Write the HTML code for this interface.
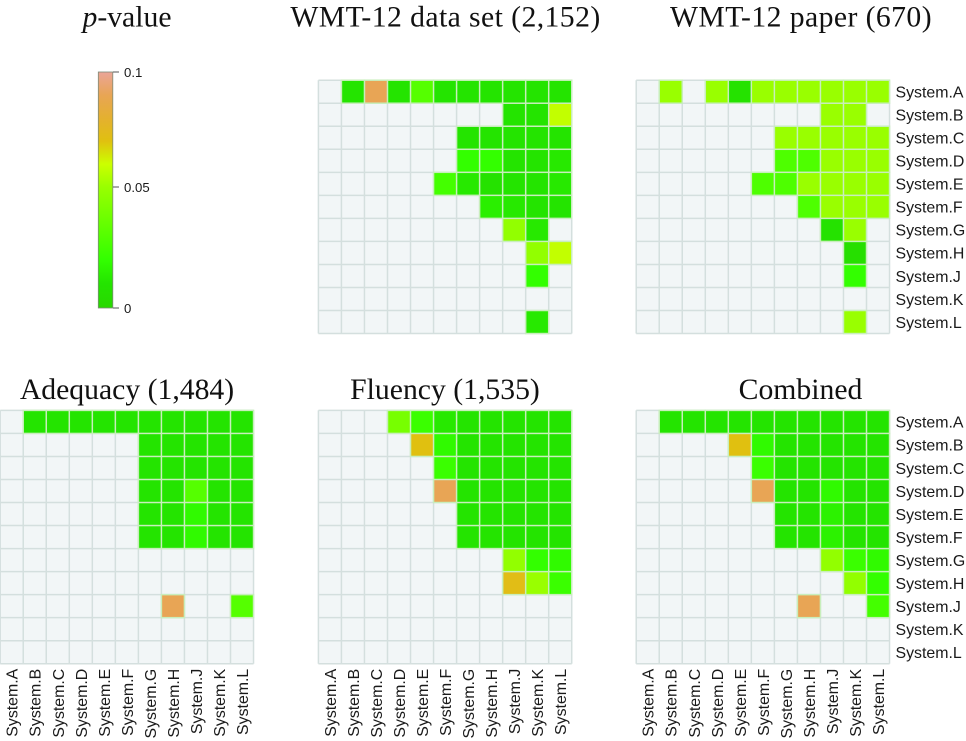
<!DOCTYPE html>
<html>
<head>
<meta charset="utf-8">
<title>p-value heatmaps</title>
<style>
html,body{margin:0;padding:0;background:#fff;width:966px;height:741px;overflow:hidden}
svg{display:block}
.title{font-family:"Liberation Serif",serif;font-size:29.7px;fill:#111;text-anchor:middle}
.wide{letter-spacing:0.42px}
.lab{font-family:"Liberation Sans",sans-serif;font-size:15.9px;fill:#1a1a1a}
.leg{font-family:"Liberation Sans",sans-serif;font-size:13.2px;fill:#1a1a1a}
</style>
</head>
<body>
<svg id="chart" width="966" height="741" viewBox="0 0 966 741" xmlns="http://www.w3.org/2000/svg">
<defs><linearGradient id="legend-gradient" x1="0" y1="1" x2="0" y2="0"></linearGradient></defs>
<text class="title" x="127" y="26.5"><tspan font-style="italic">p</tspan>-value</text>
<text class="title wide" x="445.5" y="26.5">WMT-12 data set (2,152)</text>
<text class="title wide" x="801" y="26.5">WMT-12 paper (670)</text>
<text class="title" x="127" y="399">Adequacy (1,484)</text>
<text class="title" x="445" y="399">Fluency (1,535)</text>
<text class="title" x="800.5" y="399">Combined</text>
<g id="plots"></g>
<g id="legend"></g>
</svg>
<script>
const n = null;
const systems = ["System.A","System.B","System.C","System.D","System.E","System.F","System.G","System.H","System.J","System.K","System.L"];
const legendTicks = [0, 0.05, 0.1];
const legendTickLabels = ["0", "0.05", "0.1"];
const colorValues = [0, 0.01, 0.02, 0.03, 0.04, 0.05, 0.06, 0.07, 0.08, 0.09, 0.1];
const colorHexes = ["#28d800","#24e400","#33ff00","#55ff00","#77ff00","#99ff00","#ccff00","#e0c010","#e4b030","#e8a555","#eba598"];

const wmtData = [
  [n,.01,.09,.01,.03,.01,.01,.01,.01,.01,.01],
  [n,n,n,n,n,n,n,n,.01,.01,.058],
  [n,n,n,n,n,n,.01,.01,.01,.01,.01],
  [n,n,n,n,n,n,.02,.02,.01,.01,.012],
  [n,n,n,n,n,.025,.012,.008,.01,.01,.012],
  [n,n,n,n,n,n,n,.014,.012,.01,.01],
  [n,n,n,n,n,n,n,n,.048,.012,n],
  [n,n,n,n,n,n,n,n,n,.048,.058],
  [n,n,n,n,n,n,n,n,n,.02,n],
  [n,n,n,n,n,n,n,n,n,n,n],
  [n,n,n,n,n,n,n,n,n,.012,n]
];
const wmtPaper = [
  [n,.05,n,.05,.008,.05,.05,.05,.05,.05,.05],
  [n,n,n,n,n,n,n,n,.05,.05,n],
  [n,n,n,n,n,n,.05,.05,.05,.05,.05],
  [n,n,n,n,n,n,.028,.028,.05,.05,.05],
  [n,n,n,n,n,.028,.028,.05,.05,.05,.05],
  [n,n,n,n,n,n,n,.028,.05,.05,.05],
  [n,n,n,n,n,n,n,n,.008,.05,n],
  [n,n,n,n,n,n,n,n,n,.006,n],
  [n,n,n,n,n,n,n,n,n,.02,n],
  [n,n,n,n,n,n,n,n,n,n,n],
  [n,n,n,n,n,n,n,n,n,.05,n]
];
const adequacy = [
  [n,.01,.01,.01,.01,.01,.01,.01,.01,.01,.01],
  [n,n,n,n,n,n,.01,.01,.01,.01,.01],
  [n,n,n,n,n,n,.01,.01,.01,.01,.01],
  [n,n,n,n,n,n,.01,.01,.03,.01,.01],
  [n,n,n,n,n,n,.01,.01,.018,.01,.01],
  [n,n,n,n,n,n,.01,.01,.018,.01,.01],
  [n,n,n,n,n,n,n,n,n,n,n],
  [n,n,n,n,n,n,n,n,n,n,n],
  [n,n,n,n,n,n,n,.09,n,n,.03],
  [n,n,n,n,n,n,n,n,n,n,n],
  [n,n,n,n,n,n,n,n,n,n,n]
];
const fluency = [
  [n,n,n,.04,.022,.012,.01,.01,.01,.01,.01],
  [n,n,n,n,.07,.018,.01,.01,.01,.01,.01],
  [n,n,n,n,n,.022,.01,.01,.01,.01,.01],
  [n,n,n,n,n,.09,.01,.01,.01,.01,.01],
  [n,n,n,n,n,n,.01,.01,.01,.01,.01],
  [n,n,n,n,n,n,.01,.01,.01,.01,.01],
  [n,n,n,n,n,n,n,n,.048,.02,.018],
  [n,n,n,n,n,n,n,n,.072,.05,.022],
  [n,n,n,n,n,n,n,n,n,n,n],
  [n,n,n,n,n,n,n,n,n,n,n],
  [n,n,n,n,n,n,n,n,n,n,n]
];
const combined = [
  [n,.01,.01,.01,.01,.01,.01,.01,.01,.01,.01],
  [n,n,n,n,.07,.018,.01,.01,.01,.01,.01],
  [n,n,n,n,n,.022,.01,.01,.01,.01,.01],
  [n,n,n,n,n,.09,.01,.01,.018,.01,.01],
  [n,n,n,n,n,n,.01,.01,.015,.01,.01],
  [n,n,n,n,n,n,.01,.01,.015,.01,.01],
  [n,n,n,n,n,n,n,n,.048,.022,.018],
  [n,n,n,n,n,n,n,n,n,.048,.02],
  [n,n,n,n,n,n,n,.09,n,n,.025],
  [n,n,n,n,n,n,n,n,n,n,n],
  [n,n,n,n,n,n,n,n,n,n,n]
];

const NS = "http://www.w3.org/2000/svg";
const PITCH = 23.03;
function mk(tag, attrs, parent) {
  const el = document.createElementNS(NS, tag);
  for (const k in attrs) el.setAttribute(k, attrs[k]);
  parent.appendChild(el);
  return el;
}
function hexToRgb(h) {
  return [parseInt(h.slice(1,3),16), parseInt(h.slice(3,5),16), parseInt(h.slice(5,7),16)];
}
function colorScale(v) {
  const c = Math.max(colorValues[0], Math.min(colorValues[colorValues.length-1], v));
  let i = 0;
  while (i < colorValues.length-2 && c > colorValues[i+1]) i++;
  const t = (c - colorValues[i]) / (colorValues[i+1] - colorValues[i]);
  const a = hexToRgb(colorHexes[i]);
  const b = hexToRgb(colorHexes[i+1]);
  return "rgb(" + a.map((x,j) => Math.round(x + (b[j]-x)*t)).join(",") + ")";
}
function legendY(v) {
  if (v <= 0.05) return 308 - (v / 0.05) * 121;
  return 187 - ((v - 0.05) / 0.05) * 115;
}

const plots = document.getElementById("plots");

function drawPanel(name, values, left, top, showRowLabels, showColLabels) {
  const g = document.createElementNS(NS, "g");
  
  
  plots.appendChild(g);
  const xPos = i => left + i * PITCH;
  const yPos = i => top + i * PITCH;
  const size = systems.length * PITCH;
  const bg = mk("rect", {x:left, y:top, width:size, height:size, fill:"#f2f6f7"}, g);
  
  
  for (let i = 0; i <= systems.length; i++) {
    const v = mk("line", {x1:xPos(i), x2:xPos(i), y1:top, y2:top+size, stroke:"#d4dfde", "stroke-width":1.5}, g);
    
    
    const h = mk("line", {y1:yPos(i), y2:yPos(i), x1:left, x2:left+size, stroke:"#d4dfde", "stroke-width":1.5}, g);
    
    
  }
  values.forEach((row, r) => row.forEach((val, c) => {
    if (val === null) return;
    const halo = mk("rect", {x:xPos(c)-0.75, y:yPos(r)-0.75, width:PITCH+1.5, height:PITCH+1.5, fill:"#c8eebc"}, g);
    
    
  }));
  values.forEach((row, r) => row.forEach((val, c) => {
    if (val === null) return;
    const cell = mk("rect", {x:xPos(c)+0.75, y:yPos(r)+0.75, width:PITCH-1.5, height:PITCH-1.5, fill:colorScale(val)}, g);
    
    
  }));
  if (showRowLabels) {
    systems.forEach((s, i) => {
      const t = mk("text", {class:"lab", x:left+size+6, y:yPos(i)+PITCH/2+5.8}, g);
      
      
      t.textContent = s;
    });
  }
  if (showColLabels) {
    systems.forEach((s, i) => {
      const cx = xPos(i) + PITCH/2 + 0.5;
      const yy = top + size + 5;
      const t = mk("text", {class:"lab", transform:"translate(" + (cx+5.5) + "," + yy + ") rotate(-90)", "text-anchor":"end"}, g);
      
      
      t.textContent = s;
    });
  }
}

drawPanel("wmt-data", wmtData, 318.4, 80.2, false, false);
drawPanel("wmt-paper", wmtPaper, 636.2, 80.2, true, false);
drawPanel("adequacy", adequacy, 0.2, 410.4, false, true);
drawPanel("fluency", fluency, 318.4, 410.4, false, true);
drawPanel("combined", combined, 636.2, 410.4, true, true);

const grad = document.getElementById("legend-gradient");
colorValues.forEach((v, i) => {
  mk("stop", {offset:(308 - legendY(v)) / (308 - legendY(0.1)), "stop-color":colorHexes[i]}, grad);
});
const legend = document.getElementById("legend");
const bar = mk("rect", {x:98.3, y:legendY(0.1), width:14.5, height:legendY(0)-legendY(0.1), fill:"url(#legend-gradient)", stroke:"#7d8a78", "stroke-width":0.8}, legend);


legendTicks.forEach((v, i) => {
  const tick = mk("line", {x1:113, x2:119, y1:legendY(v), y2:legendY(v), stroke:"#555", "stroke-width":1}, legend);
  
  
  const lab = mk("text", {class:"leg", x:124, y:legendY(v)+5.2}, legend);
  
  
  lab.textContent = legendTickLabels[i];
});
</script>
</body>
</html>
